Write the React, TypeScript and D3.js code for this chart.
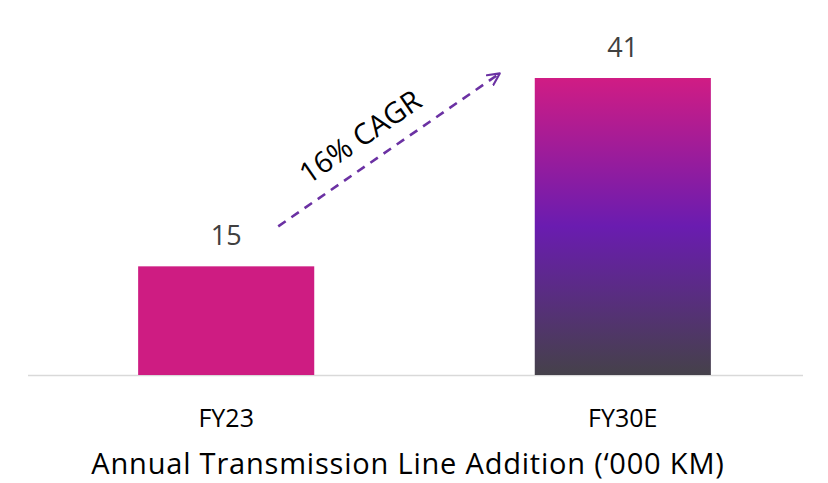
import React from "react";
import * as d3 from "d3";

const categories = ["FY23", "FY30E"];
const values = [15, 41];
const cagrLabel = "16% CAGR";
const axisTitle = "Annual Transmission Line Addition (‘000 KM)";

const W = 828;
const H = 483;

export default function App() {
  const x = d3.scaleBand<string>().domain(categories).range([37, 812]).paddingInner(0.556).paddingOuter(0.255);
  const y = d3.scaleLinear().domain([0, 41]).range([375, 78]);
  const font = "'Open Sans', 'Noto Sans', sans-serif";

  // annotation arrow anchored to bars
  const x1 = (x(categories[0]) ?? 0) + x.bandwidth() - 36;
  const y1 = y(values[0]) - 40;
  const x2 = (x(categories[1]) ?? 0) - 33;
  const y2 = y(values[1]) - 6;
  const mx = (x1 + x2) / 2 - 24;
  const my = (y1 + y2) / 2 - 4;
  const angle = (Math.atan2(y2 - y1, x2 - x1) * 180) / Math.PI;

  return (
    <svg width={W} height={H} style={{ position: "absolute", left: 0, top: 0, background: "#fff" }}>
      <defs>
        <linearGradient id="g2" x1="0" y1="0" x2="0" y2="1">
          <stop offset="0" stopColor="#d01c84" />
          <stop offset="0.5" stopColor="#6a1cb0" />
          <stop offset="1" stopColor="#45414a" />
        </linearGradient>
        <marker id="ah" viewBox="0 0 12 12" refX="11" refY="6" markerWidth="14" markerHeight="14" markerUnits="userSpaceOnUse" orient="auto">
          <path d="M1,1 L11,6 L1,11" fill="none" stroke="#6b31a3" strokeWidth="1.8" strokeLinecap="round" strokeLinejoin="round" />
        </marker>
      </defs>
      <line x1={28} x2={803} y1={375.5} y2={375.5} stroke="#d9d9d9" strokeWidth={1.5} />
      {categories.map((c, i) => (
        <g key={c}>
          <rect
            x={x(c)}
            y={y(values[i])}
            width={x.bandwidth()}
            height={y(0) - y(values[i])}
            fill={i === 0 ? "#ce1c82" : "url(#g2)"}
          />
          <text
            x={(x(c) ?? 0) + x.bandwidth() / 2}
            y={y(values[i]) - 21}
            textAnchor="middle"
            fontFamily={font}
            fontSize={27}
            fill="#404040"
          >
            {values[i]}
          </text>
          <text
            x={(x(c) ?? 0) + x.bandwidth() / 2}
            y={427}
            textAnchor="middle"
            fontFamily={font}
            fontSize={25}
            fill="#000"
          >
            {c}
          </text>
        </g>
      ))}
      <line
        x1={x1}
        y1={y1}
        x2={x2 - 2}
        y2={y2 + 1.4}
        stroke="#6b31a3"
        strokeWidth={2.6}
        strokeDasharray="9 7"
        markerEnd="url(#ah)"
      />
      <text
        x={mx}
        y={my}
        transform={`rotate(${angle} ${mx} ${my})`}
        textAnchor="middle"
        fontFamily={font}
        fontSize={29}
        fill="#000"
      >
        {cagrLabel}
      </text>
      <text x={408} y={474} textAnchor="middle" fontFamily={font} fontSize={29} letterSpacing={0.8} fill="#000">
        {axisTitle}
      </text>
    </svg>
  );
}
